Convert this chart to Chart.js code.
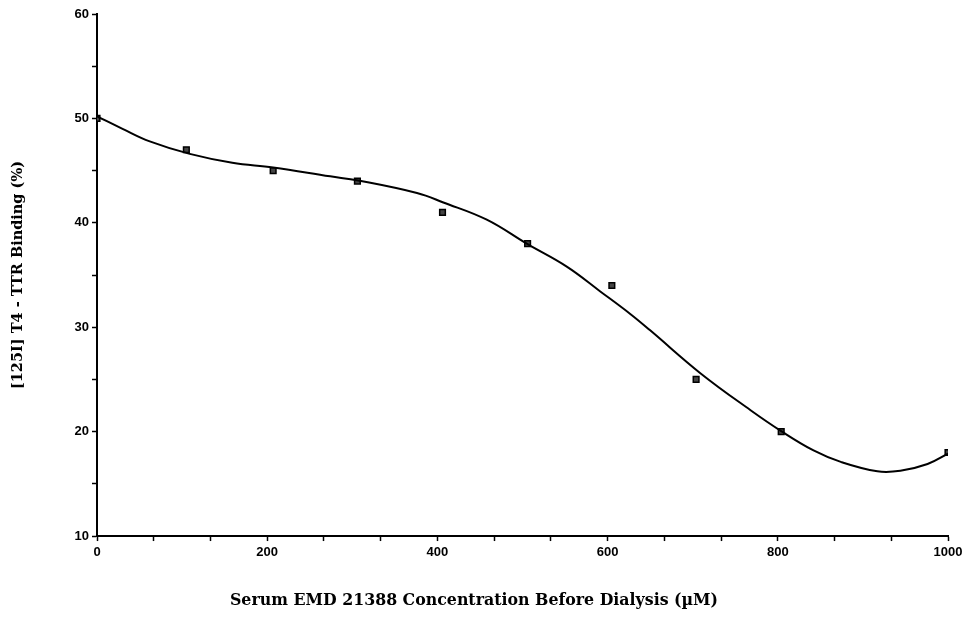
<!DOCTYPE html>
<html>
<head>
<meta charset="utf-8">
<script src="https://cdn.jsdelivr.net/npm/chart.js@4"></script>
<style>
html,body{margin:0;padding:0;background:#fff;}
#wrap{width:967px;height:617px;}
</style>
</head>
<body>
<div id="wrap"><canvas id="c" width="967" height="617"></canvas></div>
<script>
// Measured points (concentration µM, binding %)
const pointX = [0, 105, 207, 306, 406, 506, 605, 704, 804, 1000];
const pointY = [50, 47, 45, 44, 41, 38, 34, 25, 20, 18];

// Fitted curve
const curveX = [0, 30, 62, 109, 159, 207, 274, 307, 376, 407, 458, 506, 552, 591, 627, 650, 709, 768, 804, 842, 874, 917, 944, 976, 1000];
const curveY = [50.2, 49.0, 47.8, 46.6, 45.75, 45.3, 44.45, 44.05, 42.85, 41.95, 40.3, 37.95, 35.8, 33.45, 31.25, 29.7, 25.6, 22.05, 20.05, 18.2, 17.1, 16.2, 16.25, 16.9, 17.9];

const xTitle = 'Serum EMD 21388 Concentration Before Dialysis (\u00B5M)';
const yTitle = '[125I] T4 - TTR Binding (%)';

const pts = pointX.map((x, i) => ({x, y: pointY[i]}));
const curve = curveX.map((x, i) => ({x, y: curveY[i]}));

const tickFont = {family: "'Liberation Sans', Arial, sans-serif", size: 13, weight: 'bold'};
const xTitleFont = {family: "'DejaVu Serif', serif", size: 15.8, weight: 'bold'};
const yTitleFont = {family: "'DejaVu Serif', serif", size: 14.5, weight: 'bold'};

new Chart(document.getElementById('c'), {
  type: 'scatter',
  data: {
    datasets: [
      {
        type: 'line',
        data: curve,
        borderColor: '#000',
        borderWidth: 2,
        pointRadius: 0,
        tension: 0.4,
        fill: false
      },
      {
        type: 'scatter',
        data: pts,
        pointStyle: 'rect',
        pointRadius: 4,
        backgroundColor: '#444',
        borderColor: '#000',
        borderWidth: 1.5
      }
    ]
  },
  options: {
    responsive: false,
    animation: false,
    layout: {padding: {top: 14, right: 19, left: 0, bottom: 0}},
    plugins: {
      legend: {display: false},
      tooltip: {enabled: false},
      title: {
        display: true,
        position: 'bottom',
        text: xTitle,
        color: '#000',
        font: xTitleFont,
        padding: {top: 15, bottom: 7}
      }
    },
    scales: {
      x: {
        type: 'linear',
        min: 0,
        max: 1000,
        afterFit: s => { s.height = 40; },
        border: {color: '#000', width: 2},
        grid: {drawOnChartArea: false, drawTicks: true, tickLength: 5, tickColor: '#000', tickWidth: 1.5},
        ticks: {
          stepSize: 200 / 3,
          autoSkip: false,
          maxRotation: 0,
          color: '#000',
          font: tickFont,
          padding: 4,
          callback: v => {
            const r = v / 200;
            return Math.abs(r - Math.round(r)) < 1e-6 ? String(Math.round(v)) : '';
          }
        }
      },
      y: {
        type: 'linear',
        min: 10,
        max: 60,
        afterFit: s => { s.width = 97; },
        border: {color: '#000', width: 2},
        grid: {drawOnChartArea: false, drawTicks: true, tickLength: 5, tickColor: '#000', tickWidth: 1.5},
        ticks: {
          stepSize: 5,
          autoSkip: false,
          color: '#000',
          font: tickFont,
          padding: 3,
          callback: v => (Math.abs(v % 10) < 1e-6 ? String(v) : '')
        },
        title: {
          display: true,
          text: yTitle,
          color: '#000',
          font: yTitleFont,
          padding: {top: 10, bottom: 0}
        }
      }
    }
  }
});
</script>
</body>
</html>
